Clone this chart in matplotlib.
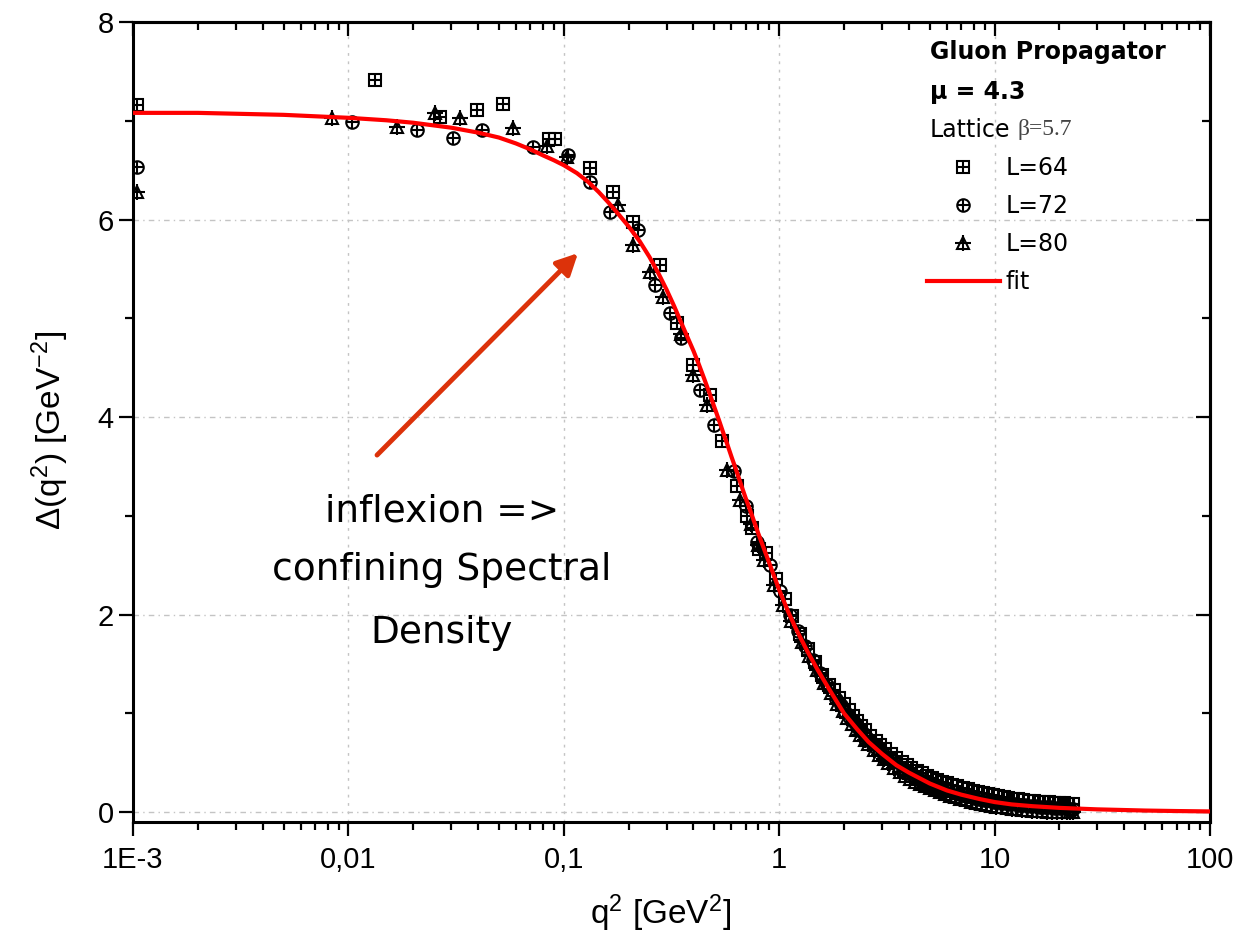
import matplotlib
matplotlib.use('Agg')
import matplotlib.pyplot as plt
from matplotlib.ticker import FixedLocator, NullFormatter, LogLocator
from matplotlib.legend_handler import HandlerTuple

plt.rcParams['font.family'] = ['Liberation Sans', 'DejaVu Sans']
plt.rcParams['mathtext.fontset'] = 'custom'
plt.rcParams['mathtext.rm'] = 'Liberation Sans'
plt.rcParams['mathtext.it'] = 'Liberation Sans:italic'
plt.rcParams['mathtext.bf'] = 'Liberation Sans:bold'

# ---------------- data ----------------
fit_q2 = [0.001, 0.002, 0.005, 0.01, 0.015, 0.02, 0.03, 0.04, 0.05, 0.06, 0.07, 0.08,
          0.09, 0.1, 0.115, 0.13, 0.145, 0.16, 0.18, 0.2, 0.225, 0.25, 0.275, 0.3,
          0.325, 0.35, 0.375, 0.4, 0.425, 0.45, 0.475, 0.5, 0.525, 0.55, 0.575, 0.6,
          0.625, 0.65, 0.675, 0.7, 0.75, 0.8, 0.9,
          1.0, 1.1, 1.2, 1.35, 1.5, 1.7, 2.0, 2.3, 2.6, 3.0, 3.5, 4.0, 5.0, 6.0, 7.0,
          8.5, 10, 12, 15, 20, 30, 50, 70, 100]
fit_delta = [7.08, 7.08, 7.06, 7.03, 7.005, 6.98, 6.93, 6.88, 6.83, 6.77, 6.71, 6.65,
             6.60, 6.55, 6.47, 6.38, 6.28, 6.18, 6.05, 5.93, 5.78, 5.62, 5.455, 5.29,
             5.125, 4.96, 4.81, 4.67, 4.525, 4.38, 4.24, 4.10, 3.97, 3.84, 3.72, 3.60,
             3.49, 3.38, 3.275, 3.175, 2.995, 2.82, 2.52,
             2.25, 2.03, 1.85, 1.63, 1.45, 1.25, 1.00, 0.84, 0.71, 0.59, 0.475, 0.40, 0.29,
             0.22, 0.177, 0.133, 0.102, 0.078, 0.060, 0.043, 0.028, 0.016, 0.011, 0.007]

q2_L64 = [0.00104, 0.0133, 0.0266, 0.0395, 0.0522, 0.085, 0.091, 0.1323, 0.169, 0.21,
          0.28, 0.335, 0.398, 0.476, 0.54, 0.64, 0.71, 0.75, 0.81, 0.87, 0.97, 1.06,
          1.15, 1.25, 1.36, 1.47, 1.58, 1.70]
delta_L64 = [7.16, 7.41, 7.04, 7.11, 7.17, 6.82, 6.82, 6.52, 6.28, 5.97,
             5.54, 4.95, 4.53, 4.22, 3.76, 3.30, 3.00, 2.88, 2.66, 2.62, 2.36, 2.16,
             1.99, 1.80, 1.65, 1.52, 1.39, 1.29]

q2_L72 = [0.00104, 0.0104, 0.0208, 0.0306, 0.0415, 0.072, 0.1046, 0.132, 0.164, 0.22,
          0.265, 0.31, 0.35, 0.43, 0.5, 0.62, 0.70, 0.79, 0.91, 1.01, 1.12, 1.22,
          1.32, 1.43, 1.55, 1.66]
delta_L72 = [6.53, 6.99, 6.91, 6.83, 6.91, 6.73, 6.65, 6.38, 6.08, 5.89,
             5.34, 5.05, 4.80, 4.27, 3.92, 3.45, 3.10, 2.74, 2.50, 2.24, 2.00, 1.83,
             1.68, 1.54, 1.41, 1.29]

q2_L80 = [0.00104, 0.0084, 0.0168, 0.0253, 0.0329, 0.058, 0.0835, 0.103, 0.178, 0.21,
          0.25, 0.289, 0.35, 0.398, 0.46, 0.57, 0.66, 0.74, 0.80, 0.85, 0.95, 1.04,
          1.14, 1.27, 1.38, 1.50, 1.62, 1.74]
delta_L80 = [6.28, 7.03, 6.94, 7.08, 7.03, 6.93, 6.74, 6.63, 6.15, 5.74,
             5.47, 5.22, 4.84, 4.43, 4.12, 3.46, 3.16, 2.92, 2.70, 2.55, 2.30, 2.10,
             1.94, 1.72, 1.58, 1.44, 1.31, 1.21]

# dense high-momentum parts
q2_L64_high = [1.8, 1.9, 2.0, 2.1, 2.2, 2.3, 2.4, 2.5, 2.65, 2.8, 2.95, 3.1, 3.3, 3.5, 3.7,
               3.9, 4.1, 4.35, 4.6, 4.85, 5.1, 5.4, 5.7, 6.0, 6.35, 6.7, 7.1, 7.5, 7.9,
               8.35, 8.8, 9.3, 9.8, 10.4, 11.0, 11.6, 12.2, 12.9, 13.6, 14.4, 15.2, 16.0,
               16.9, 17.8, 18.8, 19.8, 20.9, 22.0, 23.0]
delta_L64_high = [1.24, 1.16, 1.09, 1.03, 0.97, 0.92, 0.87, 0.83, 0.77, 0.72, 0.68, 0.64,
                  0.59, 0.55, 0.51, 0.48, 0.45, 0.42, 0.40, 0.37, 0.35, 0.33, 0.31, 0.29,
                  0.27, 0.26, 0.24, 0.23, 0.21, 0.20, 0.19, 0.18, 0.17, 0.16, 0.15, 0.14,
                  0.13, 0.13, 0.12, 0.11, 0.11, 0.10, 0.10, 0.10, 0.09, 0.09, 0.09, 0.08,
                  0.08]
q2_L72_high = [1.83, 1.93, 2.03, 2.14, 2.24, 2.34, 2.44, 2.55, 2.70, 2.85, 3.0, 3.16, 3.36,
               3.56, 3.77, 3.97, 4.18, 4.43, 4.68, 4.94, 5.2, 5.5, 5.8, 6.1, 6.46, 6.82,
               7.23, 7.63, 8.05, 8.5, 8.96, 9.47, 9.98, 10.6, 11.2, 11.8, 12.4, 13.1, 13.8,
               14.7, 15.5, 16.3, 17.2, 18.1, 19.1, 20.2, 21.3, 22.4, 23.2]
delta_L72_high = [1.15, 1.08, 1.01, 0.95, 0.90, 0.84, 0.80, 0.75, 0.70, 0.64, 0.61, 0.56,
                  0.52, 0.47, 0.44, 0.40, 0.38, 0.35, 0.32, 0.30, 0.28, 0.25, 0.24, 0.22,
                  0.20, 0.18, 0.17, 0.16, 0.14, 0.13, 0.12, 0.12, 0.10, 0.10, 0.09, 0.08,
                  0.08, 0.07, 0.07, 0.06, 0.06, 0.05, 0.05, 0.05, 0.04, 0.04, 0.04, 0.03,
                  0.03]
q2_L80_high = [1.86, 1.97, 2.07, 2.18, 2.28, 2.38, 2.49, 2.59, 2.75, 2.9, 3.06, 3.21, 3.42,
               3.63, 3.83, 4.04, 4.25, 4.51, 4.77, 5.02, 5.28, 5.6, 5.9, 6.22, 6.58, 6.94,
               7.36, 7.77, 8.18, 8.65, 9.12, 9.63, 10.15, 10.8, 11.4, 12.0, 12.6, 13.4, 14.1,
               14.9, 15.7, 16.6, 17.5, 18.4, 19.5, 20.5, 21.6, 22.5, 23.1]
delta_L80_high = [1.09, 1.02, 0.95, 0.89, 0.83, 0.78, 0.73, 0.69, 0.63, 0.58, 0.54, 0.50,
                  0.45, 0.41, 0.37, 0.34, 0.31, 0.28, 0.26, 0.24, 0.22, 0.20, 0.18, 0.16,
                  0.15, 0.13, 0.12, 0.10, 0.09, 0.08, 0.07, 0.06, 0.05, 0.05, 0.04, 0.03,
                  0.03, 0.02, 0.02, 0.01, 0.01, 0.01, 0.00, 0.00, 0.00, 0.00, 0.00, 0.00,
                  0.00]

x_tick_values = [1e-3, 1e-2, 1e-1, 1, 10, 100]
x_tick_labels = ['1E-3', '0,01', '0,1', '1', '10', '100']
y_tick_values = [0, 2, 4, 6, 8]
y_minor_values = [1, 3, 5, 7]

series_labels = ['L=64', 'L=72', 'L=80', 'fit']

# ---------------- figure ----------------
fig = plt.figure(figsize=(12.38, 9.5), dpi=100)
ax = fig.add_axes([133/1238, 1 - 822/950, (1210 - 133)/1238, (822 - 22)/950])
ax.set_xscale('log')
ax.set_xlim(1e-3, 100)
ax.set_ylim(-0.1, 8)

mew = 1.5
ms = 9
series = [
    (q2_L64 + q2_L64_high, delta_L64 + delta_L64_high, 's', 9),
    (q2_L72 + q2_L72_high, delta_L72 + delta_L72_high, 'o', 9),
    (q2_L80 + q2_L80_high, delta_L80 + delta_L80_high, '^', 11),
]
handles = []
for xs, ys, mk, pms in series:
    h1, = ax.plot(xs, ys, ls='none', marker=mk, mfc='none', mec='black', ms=ms, mew=mew, zorder=3)
    h2, = ax.plot(xs, ys, ls='none', marker='+', color='black', ms=pms, mew=mew, zorder=3)
    handles.append((h1, h2))

hfit, = ax.plot(fit_q2, fit_delta, color='#ff0000', lw=3.0, zorder=5)
handles.append(hfit)

# grid
for xv in [1e-2, 1e-1, 1, 10]:
    ax.axvline(xv, color='#c4c4c4', lw=1.0, ls=(0, (2, 4)), zorder=0)
for yv in [0, 2, 4, 6]:
    ax.axhline(yv, color='#c4c4c4', lw=1.0, ls=(0, (4, 3, 1, 3)), zorder=0)

# ticks
ax.xaxis.set_major_locator(FixedLocator(x_tick_values))
ax.set_xticklabels(x_tick_labels)
ax.xaxis.set_minor_locator(LogLocator(base=10, subs=[2, 3, 4, 5, 6, 7, 8, 9]))
ax.xaxis.set_minor_formatter(NullFormatter())
ax.yaxis.set_major_locator(FixedLocator(y_tick_values))
ax.yaxis.set_minor_locator(FixedLocator(y_minor_values))

for s in ax.spines.values():
    s.set_linewidth(2.2)

ax.tick_params(axis='both', which='major', direction='out', length=10, width=1.6,
               labelsize=21, top=False, right=False)
ax.tick_params(axis='both', which='minor', direction='out', length=6, width=1.6,
               top=False, right=False)
ax.tick_params(axis='x', which='major', pad=7)
ax.tick_params(axis='y', which='major', pad=4)

# inward ticks on top and right
secx = ax.secondary_xaxis('top')
secx.xaxis.set_major_locator(FixedLocator(x_tick_values))
secx.xaxis.set_minor_locator(LogLocator(base=10, subs=[2, 3, 4, 5, 6, 7, 8, 9]))
secx.xaxis.set_major_formatter(NullFormatter())
secx.xaxis.set_minor_formatter(NullFormatter())
secx.tick_params(which='major', direction='in', length=10, width=1.6)
secx.tick_params(which='minor', direction='in', length=6, width=1.6)
secx.spines['top'].set_linewidth(2.2)

secy = ax.secondary_yaxis('right')
secy.yaxis.set_major_locator(FixedLocator(y_tick_values))
secy.yaxis.set_minor_locator(FixedLocator(y_minor_values))
secy.yaxis.set_major_formatter(NullFormatter())
secy.tick_params(which='major', direction='in', length=10, width=1.6)
secy.tick_params(which='minor', direction='in', length=6, width=1.6)
secy.spines['right'].set_linewidth(2.2)

# axis labels
ax.set_xlabel('q$^2$ [GeV$^2$]', fontsize=24)
ax.set_ylabel('Δ(q$^2$) [GeV$^{-2}$]', fontsize=24)
ax.xaxis.set_label_coords(0.49, -0.088)
ax.yaxis.set_label_coords(-0.058, 0.49)

# legend header
leg_font = 'DejaVu Sans'
ax.text(0.740, 0.9625, 'Gluon Propagator', transform=ax.transAxes, fontsize=17,
        fontweight='bold', family=leg_font, va='center', ha='left')
ax.text(0.740, 0.9125, 'μ = 4.3', transform=ax.transAxes, fontsize=17,
        fontweight='bold', family=leg_font, va='center', ha='left')
ax.text(0.740, 0.865, 'Lattice', transform=ax.transAxes, fontsize=17,
        family=leg_font, va='center', ha='left')
ax.text(0.8217, 0.865, 'β=5.7', transform=ax.transAxes, fontsize=17,
        family='Liberation Serif', color='#444444', va='center', ha='left')

leg = ax.legend(handles, series_labels, loc='upper left', bbox_to_anchor=(0.737, 0.832),
                frameon=False, borderpad=0, borderaxespad=0, handlelength=3.1,
                handletextpad=0.25, labelspacing=0.59,
                prop={'family': leg_font, 'size': 17},
                handler_map={tuple: HandlerTuple(ndivide=1)})

# annotation
arrow_color = '#dc320a'
ax.annotate('', xy=(0.1164, 5.66), xytext=(0.01358, 3.615),
            arrowprops=dict(arrowstyle='-|>', color=arrow_color, lw=3.5,
                            mutation_scale=32, shrinkA=0, shrinkB=0), zorder=6)
ann_lines = ['inflexion =>', 'confining Spectral', 'Density']
ann_y = [0.37625, 0.3025, 0.22375]
for t, yy in zip(ann_lines, ann_y):
    ax.text(0.2869, yy, t, transform=ax.transAxes, fontsize=27, family='DejaVu Sans',
            ha='center', va='baseline', color='black')

fig.savefig('out.png', dpi=100)
